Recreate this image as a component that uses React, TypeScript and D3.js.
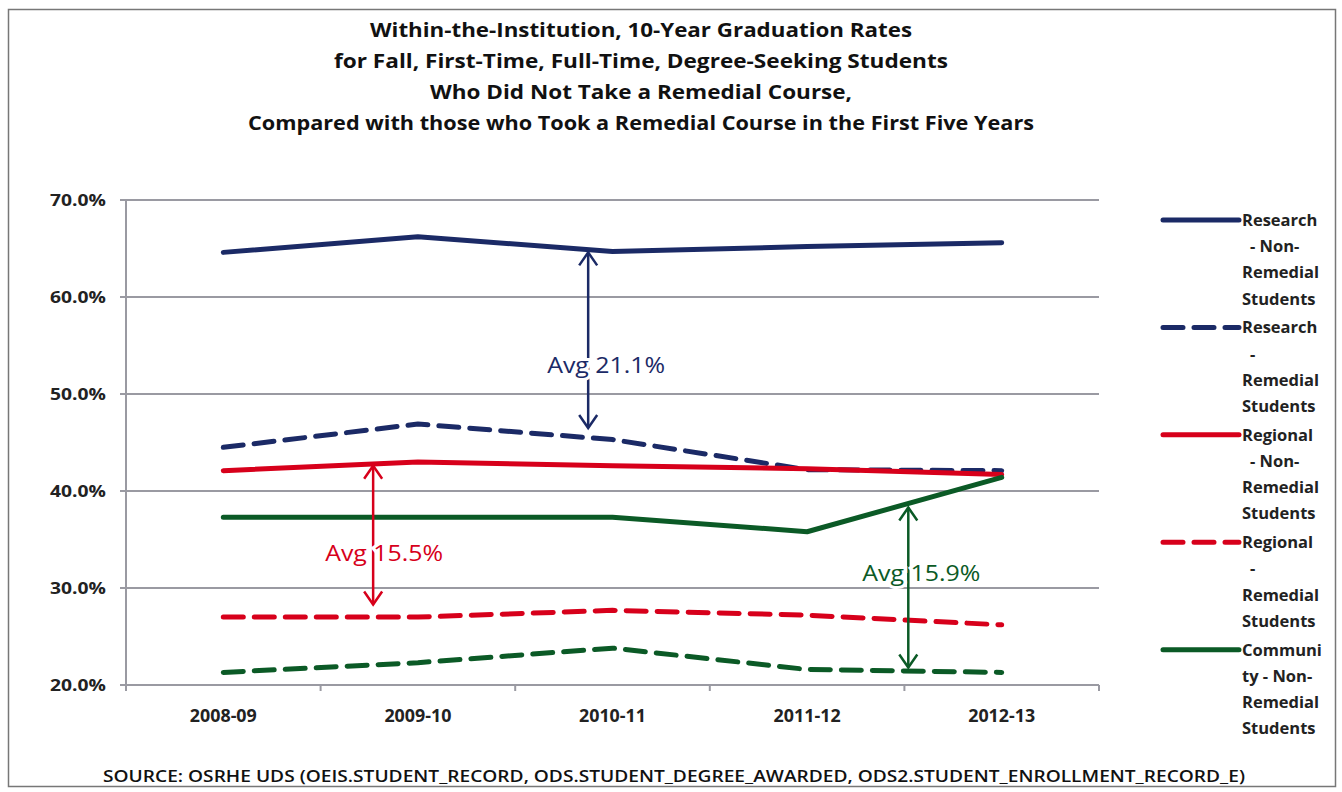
import * as d3 from "d3";

const width = 1342;
const height = 792;

const categories = ["2008-09", "2009-10", "2010-11", "2011-12", "2012-13"];
const yTicks = [20, 30, 40, 50, 60, 70];

const researchNonRemedial = [64.6, 66.2, 64.7, 65.2, 65.6];
const researchRemedial = [44.5, 46.9, 45.3, 42.2, 42.1];
const regionalNonRemedial = [42.1, 43.0, 42.6, 42.3, 41.7];
const regionalRemedial = [27.0, 27.0, 27.7, 27.2, 26.2];
const communityNonRemedial = [37.3, 37.3, 37.3, 35.8, 41.4];
const communityRemedial = [21.3, 22.3, 23.8, 21.6, 21.3];

const titleLines = [
  "Within-the-Institution, 10-Year Graduation Rates",
  "for Fall, First-Time, Full-Time, Degree-Seeking Students",
  "Who Did Not Take a Remedial Course,",
  "Compared with those who Took a Remedial Course in the First Five Years",
];
const sourceText =
  "SOURCE: OSRHE UDS (OEIS.STUDENT_RECORD, ODS.STUDENT_DEGREE_AWARDED, ODS2.STUDENT_ENROLLMENT_RECORD_E)";

const navy = "#1b2a66";
const red = "#d7001b";
const green = "#0b5a26";

const series = [
  { name: "Research - Non-Remedial Students", legend: ["Research", "- Non-", "Remedial", "Students"], values: researchNonRemedial, color: navy, dashed: false },
  { name: "Research - Remedial Students", legend: ["Research", "-", "Remedial", "Students"], values: researchRemedial, color: navy, dashed: true },
  { name: "Regional - Non-Remedial Students", legend: ["Regional", "- Non-", "Remedial", "Students"], values: regionalNonRemedial, color: red, dashed: false },
  { name: "Regional - Remedial Students", legend: ["Regional", "-", "Remedial", "Students"], values: regionalRemedial, color: red, dashed: true },
  { name: "Community - Non-Remedial Students", legend: ["Communi", "ty - Non-", "Remedial", "Students"], values: communityNonRemedial, color: green, dashed: false },
  { name: "Community - Remedial Students", legend: [], values: communityRemedial, color: green, dashed: true },
];

// gap annotations: position in category units, top / bottom value, label value
const annotations = [
  { label: "Avg 21.1%", at: 2.375, top: 64.6, bottom: 46.5, labelAt: 52.9, dx: 18, color: navy },
  { label: "Avg 15.5%", at: 1.27, top: 42.6, bottom: 28.3, labelAt: 33.5, dx: 11, color: red },
  { label: "Avg 15.9%", at: 4.02, top: 38.3, bottom: 21.8, labelAt: 31.4, dx: 13, color: green },
];

const font = "'Open Sans', 'DejaVu Sans', sans-serif";

const App = () => {
  const left = 126;
  const right = 1099;
  const x = d3.scaleBand().domain(categories).range([left, right]);
  const xPos = d3.scaleLinear().domain([0, categories.length]).range([left, right]);
  const y = d3.scaleLinear().domain([20, 70]).range([685, 200]);

  const line = d3
    .line<number>()
    .x((_, i) => (x(categories[i]) as number) + x.bandwidth() / 2)
    .y((d) => y(d));

  const legendX = 1163;
  const legendTop = 220;
  const legendRow = 26.2;

  return (
    <svg width={width} height={height} style={{ position: "absolute", left: 0, top: 0 }}>
      <rect x={0} y={0} width={width} height={height} fill="#fff" />
      <rect x={8.5} y={9.5} width={1327} height={777} fill="none" stroke="#777" strokeWidth={1.5} />

      {titleLines.map((t, i) => (
        <text key={t} x={641} y={37 + i * 31} textAnchor="middle" fontFamily={font} fontWeight="bold" fontSize={19} fill="#111"
          textLength={[542, 614, 422, 786][i]} lengthAdjust="spacingAndGlyphs">
          {t}
        </text>
      ))}

      {/* grid */}
      {yTicks.map((t) => (
        <g key={t}>
          <line x1={left - 6} x2={right} y1={y(t)} y2={y(t)} stroke="#9a9aa2" strokeWidth={2} />
          <text x={106} y={y(t) + 6} textAnchor="end" fontFamily={font} fontWeight="bold" fontSize={16.5} fill="#222"
            textLength={56} lengthAdjust="spacingAndGlyphs">
            {t.toFixed(1)}%
          </text>
        </g>
      ))}
      <line x1={left} x2={left} y1={y(70)} y2={y(20)} stroke="#9a9aa2" strokeWidth={2} />
      {d3.range(categories.length + 1).map((i) => (
        <line key={i} x1={xPos(i)} x2={xPos(i)} y1={y(20)} y2={y(20) + 6} stroke="#9a9aa2" strokeWidth={2} />
      ))}
      {categories.map((c) => (
        <text key={c} x={(x(c) as number) + x.bandwidth() / 2} y={722} textAnchor="middle" fontFamily={font} fontWeight="bold" fontSize={17} fill="#222"
          textLength={67} lengthAdjust="spacingAndGlyphs">
          {c}
        </text>
      ))}

      {/* series */}
      {series.map((s) => (
        <path key={s.name} d={line(s.values) as string} fill="none" stroke={s.color} strokeWidth={5}
          strokeDasharray={s.dashed ? "20 11" : undefined} strokeLinecap="round" strokeLinejoin="round" />
      ))}

      {/* annotations */}
      {annotations.map((a) => {
        const ax = xPos(a.at);
        const yt = y(a.top);
        const yb = y(a.bottom);
        return (
          <g key={a.label} stroke={a.color} strokeWidth={2.5} fill="none">
            <line x1={ax} x2={ax} y1={yt} y2={yb} />
            <polyline points={`${ax - 9},${yt + 13} ${ax},${yt} ${ax + 9},${yt + 13}`} />
            <polyline points={`${ax - 9},${yb - 13} ${ax},${yb} ${ax + 9},${yb - 13}`} />
            <text x={ax + a.dx} y={y(a.labelAt) + 7} textAnchor="middle" fontFamily={font} fontSize={21} fill={a.color}
              stroke="#fff" strokeWidth={6} style={{ paintOrder: "stroke" }} textLength={118} lengthAdjust="spacingAndGlyphs">
              {a.label}
            </text>
          </g>
        );
      })}

      {/* legend (clipped after fifth entry, as in the source) */}
      {series.filter((s) => s.legend.length > 0).map((s, i) => {
        const top = legendTop + i * legendRow * 4.1;
        return (
          <g key={s.name}>
            <line x1={legendX} x2={legendX + 76} y1={top} y2={top} stroke={s.color} strokeWidth={5}
              strokeDasharray={s.dashed ? "20 11" : undefined} strokeLinecap="round" />
            {s.legend.map((l, j) => (
              <text key={j} x={l.startsWith("-") ? 1250 : 1242} y={top + 6 + j * legendRow} fontFamily={font} fontWeight="bold" fontSize={16.5} fill="#222">
                {l}
              </text>
            ))}
          </g>
        );
      })}

      <text x={674} y={782} textAnchor="middle" fontFamily={font} fontWeight={600} fontSize={16.5} fill="#111" textLength={1142} lengthAdjust="spacingAndGlyphs">
        {sourceText}
      </text>
    </svg>
  );
};

export default App;
